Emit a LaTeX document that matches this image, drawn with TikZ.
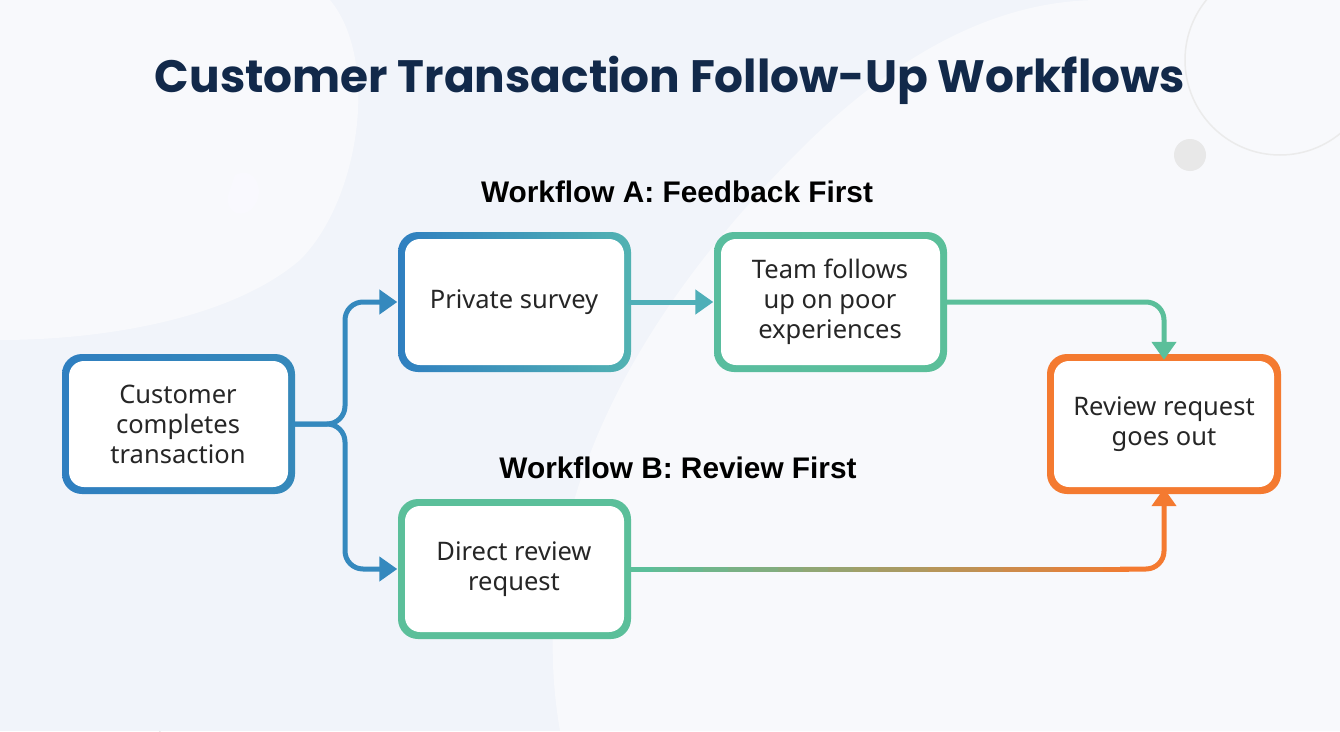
\documentclass[tikz,border=0pt]{standalone}
\usepackage{fontspec}
\setmainfont{Noto Sans}
\newfontfamily\titlefont{Poppins}
\newfontfamily\wffont{Liberation Sans}
\usetikzlibrary{arrows.meta}
\definecolor{bg}{HTML}{F1F4FA}
\definecolor{bgl}{HTML}{F8F9FC}
\definecolor{navy}{HTML}{12294A}
\definecolor{cblue}{HTML}{2F7FC0}
\definecolor{cteal}{HTML}{4FAFB8}
\definecolor{cgreen}{HTML}{5BBF9A}
\definecolor{corange}{HTML}{F47A30}
\tikzset{
  box/.style={minimum width=227pt,minimum height=134pt,align=center,font=\fontsize{25.5}{30}\selectfont,text=black!85},
  conn/.style={line width=5pt,rounded corners=18pt},
  tip/.style={-{Triangle[length=18pt,width=24pt]}},
  wf/.style={font=\wffont\bfseries\fontsize{29.8}{34}\selectfont,text=black}
}
\begin{document}
\begin{tikzpicture}[x=1pt,y=-1pt]
\useasboundingbox (0,0) rectangle (1340,731);
\fill[bg] (0,0) rectangle (1340,731);
\fill[bgl] (0,0) -- (330,0) .. controls (380,60) and (360,200) .. (300,260) .. controls (230,320) and (100,340) .. (0,340) -- cycle;
\fill[bgl] (560,731) .. controls (520,500) and (650,300) .. (800,150) .. controls (900,50) and (1000,0) .. (1100,0) -- (1340,0) -- (1340,731) -- cycle;
\fill[bg!80!blue!10] (235,175) .. controls (255,165) and (265,190) .. (255,205) .. controls (245,220) and (225,215) .. (228,195) -- cycle;
\draw[line width=1.5pt,black!8] (1280,60) circle (95);
\fill[black!9] (1190,155) circle (16);
\draw[line width=1.5pt,black!8] (-60,731) arc[start angle=180,end angle=0,radius=110]; 
% borders
\shade[left color=cblue,right color=cblue!85!cgreen,rounded corners=20pt] (62,354) rectangle (295,494);
\fill[white,rounded corners=15pt] (69,361) rectangle (288,487);
\shade[left color=cblue,right color=cteal!80!cgreen,rounded corners=20pt] (398,232) rectangle (631,372);
\fill[white,rounded corners=15pt] (405,239) rectangle (624,365);
\shade[left color=cgreen!85!cteal,right color=cgreen,rounded corners=20pt] (714,232) rectangle (947,372);
\fill[white,rounded corners=15pt] (721,239) rectangle (940,365);
\fill[corange,rounded corners=20pt] (1047,354) rectangle (1281,494);
\fill[white,rounded corners=15pt] (1054,361) rectangle (1274,487);
\fill[cgreen,rounded corners=20pt] (398,499) rectangle (631,639);
\fill[white,rounded corners=15pt] (405,506) rectangle (624,632);
% nodes
\node[font=\titlefont\bfseries\fontsize{45.4}{52}\selectfont,text=navy] (title) at (670,80) {Customer Transaction Follow-Up Workflows};
\node[wf] (wa) at (677,192) {Workflow A: Feedback First};
\node[wf] (wb) at (678,468) {Workflow B: Review First};
\node[box] (cust) at (178,424) {Customer\\completes\\transaction};
\node[box] (priv) at (514,302) {Private survey};
\node[box] (team) at (830,302) {Team follows\\up on poor\\experiences};
\node[box] (rev) at (1164,424) {Review request\\goes out};
\node[box] (dir) at (514,569) {Direct review\\request};
% connectors
\draw[conn,tip,color=cblue!80!cteal] (cust.east) -- (345,424) |- ([xshift=-3pt]priv.west);
\draw[conn,tip,color=cblue!80!cteal] (cust.east) -- (345,424) |- ([xshift=-3pt]dir.west);
\draw[conn,tip,color=cteal] (priv.east) -- ([xshift=-3pt]team.west);
\draw[conn,tip,color=cgreen] (team.east) -| ([yshift=-3pt]rev.north);
\foreach \i in {0,...,19}{
  \pgfmathsetmacro\p{\i*5}
  \draw[line width=5pt,color=corange!\p!cgreen] ({628+\i*25},569) -- ({628+(\i+1)*25+1},569);
}
\draw[conn,tip,color=corange] (1120,569) -| ([yshift=3pt]rev.south);
\end{tikzpicture}
\end{document}
